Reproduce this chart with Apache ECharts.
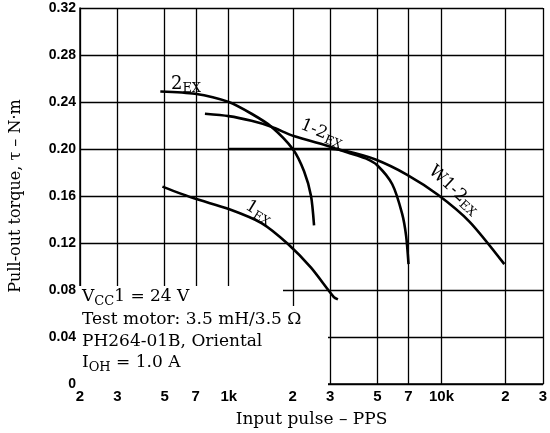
<!DOCTYPE html>
<html>
<head>
<meta charset="utf-8">
<script src="https://cdn.jsdelivr.net/npm/echarts@6/dist/echarts.min.js"></script>
<style>
  html, body { margin: 0; padding: 0; background: #fff; }
  #chart { width: 550px; height: 433px; }
</style>
</head>
<body>
<div id="chart"></div>
<script>
// x grid lines (PPS) and their labels
const xTicks = [200, 300, 500, 700, 1000, 2000, 3000, 5000, 7000, 10000, 20000, 30000]
const xTickLabels = ['2', '3', '5', '7', '1k', '2', '3', '5', '7', '10k', '2', '3']

// pull-out torque curves
const freq2EX = [477, 694, 1000, 1280, 1586, 2000, 2260, 2437, 2518]
const tau2EX = [0.249, 0.247, 0.240, 0.230, 0.219, 0.200, 0.181, 0.160, 0.135]

const freq12EX = [773, 1000, 1280, 1586, 2020, 3000, 3622, 4400, 5000, 5870, 6530, 6820, 7000]
const tau12EX = [0.230, 0.228, 0.224, 0.219, 0.211, 0.202, 0.197, 0.192, 0.186, 0.170, 0.145, 0.126, 0.102]

const freqW12EX = [1000, 2000, 3000, 3600, 4900, 6900, 9620, 13560, 19740]
const tauW12EX = [0.200, 0.200, 0.200, 0.198, 0.191, 0.178, 0.161, 0.138, 0.102]

const freq1EX = [488, 687, 1000, 1426, 1905, 2437, 3120, 3260]
const tau1EX = [0.168, 0.158, 0.149, 0.137, 0.119, 0.099, 0.074, 0.072]

const serif = '"DejaVu Serif", serif'
const sans = '"Liberation Sans", Arial, sans-serif'

const pairs = (xs, ys) => xs.map((x, i) => [x, ys[i]])

const curve = (name, xs, ys) => ({
  name,
  type: 'line',
  data: pairs(xs, ys),
  showSymbol: false,
  smooth: 0.25,
  lineStyle: {color: '#000', width: 2.6},
  z: 5,
})

const sub = (big, small, size, x, y, rot) => ({
  type: 'text',
  x, y,
  rotation: rot,
  z: 120,
  style: {
    text: '{a|' + big + '}{b|' + small + '}',
    fill: '#000',
    align: 'center',
    verticalAlign: 'middle',
    rich: {
      a: {fontFamily: serif, fontSize: size, lineHeight: size},
      b: {fontFamily: serif, fontSize: size * 0.72, padding: [size * 0.55, 0, 0, 0], verticalAlign: 'bottom'},
    },
  },
})

const note = (big, small, rest, y) => ({
  type: 'text', x: 82, y, z: 120,
  style: {
    text: '{a|' + big + '}{b|' + small + '}{a|' + rest + '}',
    fill: '#000', verticalAlign: 'middle',
    rich: {
      a: {fontFamily: serif, fontSize: 17, lineHeight: 17},
      b: {fontFamily: serif, fontSize: 13, padding: [9, 0, 0, 0], verticalAlign: 'bottom'},
    },
  },
})

const gridLines = curve('grid', [], [])
gridLines.markLine = {
  silent: true,
  symbol: 'none',
  animation: false,
  lineStyle: {color: '#000', width: 1.3, type: 'solid'},
  label: {
    position: 'start',
    distance: 5,
    color: '#000',
    fontFamily: sans,
    fontWeight: 'bold',
    fontSize: 15,
  },
  data: xTicks.map((v, i) => ({xAxis: v, label: {formatter: xTickLabels[i]}})),
}

const option = {
  animation: false,
  backgroundColor: '#fff',
  grid: {left: 77, right: 7, top: 8, bottom: 45},
  xAxis: {
    type: 'log',
    logBase: 10,
    min: 200,
    max: 30000,
    name: 'Input pulse – PPS',
    nameLocation: 'middle',
    nameGap: 27,
    nameTextStyle: {fontFamily: serif, fontSize: 17, color: '#000'},
    axisLine: {show: true, lineStyle: {color: '#000', width: 1.5}},
    axisTick: {show: false},
    axisLabel: {show: false},
    splitLine: {show: false},
    minorSplitLine: {show: false},
  },
  yAxis: {
    type: 'value',
    min: 0,
    max: 0.32,
    interval: 0.04,
    name: 'Pull-out torque, τ – N·m',
    nameLocation: 'middle',
    nameGap: 56,
    nameTextStyle: {fontFamily: serif, fontSize: 16, color: '#000'},
    axisLine: {show: true, lineStyle: {color: '#000', width: 1.5}},
    axisTick: {show: false},
    axisLabel: {
      color: '#000',
      fontFamily: sans,
      fontWeight: 'bold',
      fontSize: 14,
      margin: 4,
      formatter: v => v === 0 ? '0' : v.toFixed(2),
    },
    splitLine: {show: true, lineStyle: {color: '#000', width: 1.3}},
  },
  series: [
    gridLines,
    curve('2EX', freq2EX, tau2EX),
    curve('1-2EX', freq12EX, tau12EX),
    curve('W1-2EX', freqW12EX, tauW12EX),
    curve('1EX', freq1EX, tau1EX),
  ],
  graphic: [
    // blank area behind the test conditions
    {type: 'rect', z: 100, shape: {x: 78, y: 286, width: 205, height: 101}, style: {fill: '#fff'}},
    {type: 'rect', z: 100, shape: {x: 78, y: 306, width: 250, height: 81}, style: {fill: '#fff'}},
    sub('2', 'EX', 18, 186, 84, 0),
    sub('1-2', 'EX', 17, 322, 133, -0.4),
    sub('W1-2', 'EX', 17, 454, 190, -0.75),
    sub('1', 'EX', 17, 259, 212, -0.55),
    note('V', 'CC', '1 = 24 V', 297),
    {type: 'text', x: 82, y: 320, z: 120, style: {text: 'Test motor: 3.5 mH/3.5 Ω', fill: '#000', font: '17px ' + serif, verticalAlign: 'middle'}},
    {type: 'text', x: 82, y: 342, z: 120, style: {text: 'PH264-01B, Oriental', fill: '#000', font: '17px ' + serif, verticalAlign: 'middle'}},
    note('I', 'OH', ' = 1.0 A', 363),
  ],
}

const chart = echarts.init(document.getElementById('chart'))
chart.setOption(option)
</script>
</body>
</html>
